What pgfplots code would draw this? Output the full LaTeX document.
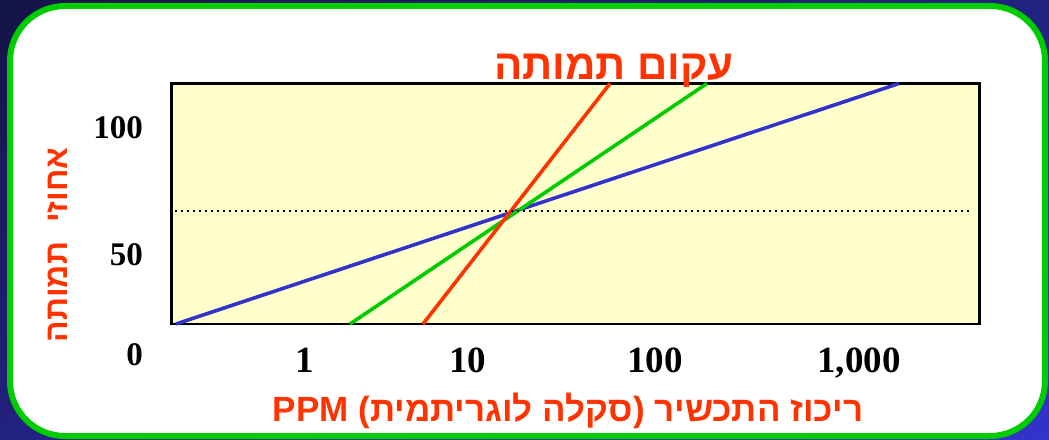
\documentclass[border=0pt]{standalone}
\usepackage{fontspec}
\setmainfont{Liberation Serif}
\newfontfamily\hebfont[Script=Hebrew]{Liberation Sans}
\usepackage{pgfplots}
\pgfplotsset{compat=1.18}
\usetikzlibrary{shadings}
\TeXXeTstate=1
\definecolor{bgdark}{HTML}{141448}
\definecolor{bgmid}{HTML}{222280}
\definecolor{bgblue}{HTML}{3333CC}
\definecolor{framegreen}{HTML}{00CC00}
\definecolor{ored}{HTML}{FF3300}
\definecolor{plotbg}{HTML}{FFFFCC}
\definecolor{lblue}{HTML}{3333CC}
\definecolor{lgreen}{HTML}{00CC00}
\definecolor{lred}{HTML}{FF3300}

\pgfplotstableread{
x y
4.5 0
727.5 240.5
}\blueline
\pgfplotstableread{
x y
178.5 0
535.5 240.5
}\greenline
\pgfplotstableread{
x y
251.5 0
438.5 240.5
}\redline
\pgfplotstableread{
x y
3.5 113
800.5 113
}\dotline

\begin{document}
\begin{tikzpicture}[x=1pt,y=1pt]
\shade[upper left=bgdark, upper right=bgmid, lower left=bgmid, lower right=bgblue] (0,0) rectangle (1049,439);
\draw[framegreen, line width=6pt, fill=white, rounded corners=55pt] (10,3) rectangle (1045,433);
\begin{axis}[
  at={(171.5pt,115pt)}, anchor=south west,
  scale only axis, width=808pt, height=240.5pt,
  xmin=0, xmax=808, ymin=0, ymax=240.5,
  axis background/.style={fill=plotbg},
  axis line style={line width=2.6pt, black},
  major tick length=0pt,
  clip=false,
  xtick={133.5,296,483.5,687.5},
  xticklabels={1,10,100,{1,000}},
  xticklabel style={anchor=base, inner sep=0pt, yshift=-48.5pt, font=\bfseries\fontsize{37}{37}\selectfont},
  ytick={58.3,185.3},
  yticklabels={50,100},
  yticklabel style={anchor=base east, inner sep=0pt, xshift=-28.5pt, font=\bfseries\fontsize{33}{33}\selectfont},
]
\addplot[lblue, line width=3.6pt] table {\blueline};
\addplot[lgreen, line width=3.6pt] table {\greenline};
\addplot[lred, line width=3.6pt] table {\redline};
\addplot[black, line width=2pt, dash pattern=on 2pt off 4pt] table {\dotline};
\node[anchor=base east, inner sep=0pt, xshift=-28.5pt, font=\bfseries\fontsize{33}{33}\selectfont] at (axis cs:0,-42) {0};
\end{axis}
\node[anchor=base, inner sep=0pt, text=ored, font=\hebfont\bfseries\fontsize{42}{42}\selectfont] at (614,359) {\beginR עקום תמותה\endR};
\node[anchor=base, inner sep=0pt, text=ored, font=\hebfont\bfseries\fontsize{35}{35}\selectfont] at (568,17) {\beginR ריכוז התכשיר (סקלה לוגריתמית) \beginL PPM\endL\endR};
\node[anchor=base, inner sep=0pt, rotate=90, text=ored, font=\hebfont\bfseries\fontsize{32}{32}\selectfont] at (67,194) {\beginR אחוזי\hspace{0.6em}תמותה\endR};
\end{tikzpicture}
\end{document}
